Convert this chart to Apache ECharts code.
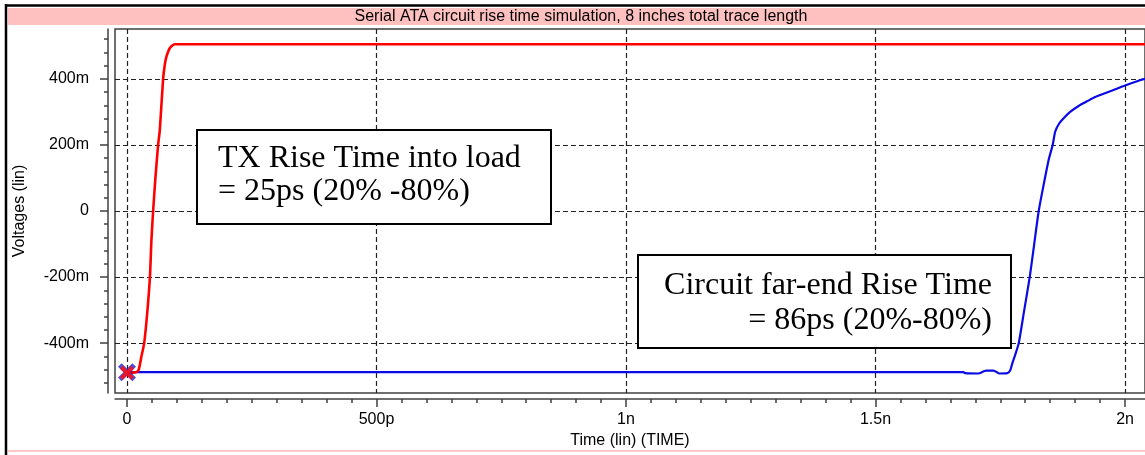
<!DOCTYPE html>
<html>
<head>
<meta charset="utf-8">
<script src="https://cdn.jsdelivr.net/npm/echarts@6/dist/echarts.min.js"></script>
<style>
  html, body { margin: 0; padding: 0; background: #ffffff; }
  #chart { width: 1145px; height: 455px; }
</style>
</head>
<body>
<div id="chart"></div>
<script>
// Transmitter output (red): time in ns, voltage in V
const txTime = [0, 0.010, 0.020, 0.024, 0.029, 0.0345, 0.0405, 0.046, 0.049, 0.0524, 0.057, 0.0624, 0.0658, 0.0724, 0.076, 0.0792, 0.0857, 0.0957, 2.04];
const txVolt = [-0.490, -0.490, -0.487, -0.478, -0.440, -0.400, -0.310, -0.200, -0.088, 0.000, 0.100, 0.200, 0.245, 0.400, 0.445, 0.468, 0.493, 0.505, 0.505];

// Far-end receiver (blue): time in ns, voltage in V
const farTime = [0, 1.676, 1.680, 1.706, 1.716, 1.722, 1.736, 1.742, 1.748, 1.764, 1.770, 1.774, 1.780, 1.787, 1.798, 1.809, 1.818, 1.827, 1.837, 1.847, 1.855, 1.860, 1.868, 1.877, 1.890, 1.907, 1.924, 1.940, 1.957, 1.973, 2.000, 2.030, 2.040];
const farVolt = [-0.488, -0.488, -0.491, -0.492, -0.486, -0.483, -0.483, -0.487, -0.492, -0.491, -0.482, -0.462, -0.435, -0.400, -0.300, -0.200, -0.100, 0.000, 0.080, 0.155, 0.200, 0.240, 0.265, 0.281, 0.300, 0.318, 0.332, 0.345, 0.355, 0.364, 0.380, 0.396, 0.400];

// Axis ticks and their labels
const xMajorTicks = [0, 0.5, 1, 1.5, 2];
const xTickLabels = ['0', '500p', '1n', '1.5n', '2n'];
const yMajorTicks = [-0.4, -0.2, 0, 0.2, 0.4];
const yTickLabels = ['-400m', '-200m', '0', '200m', '400m'];

const titleText = 'Serial ATA circuit rise time simulation, 8 inches total trace length';
const xAxisTitle = 'Time (lin) (TIME)';
const yAxisTitle = 'Voltages (lin)';
const noteTx = ['TX Rise Time into load', '= 25ps (20% -80%)'];
const noteFar = ['Circuit far-end Rise Time', '= 86ps (20%-80%)'];

// Minor tick positions: 50 ps steps on time, 40 mV steps on voltage
const xMinorTicks = [];
for (let i = 0; i <= 40; i++) xMinorTicks.push(+(i * 0.05).toFixed(3));
const yMinorTicks = [];
for (let i = -13; i <= 13; i++) yMinorTicks.push(+(i * 0.04).toFixed(3));

const X_MIN = -0.024, X_MAX = 2.04;
const Y_MIN = -0.551, Y_MAX = 0.551;

function pick(ticks, labels) {
  return function (v) {
    for (let i = 0; i < ticks.length; i++) {
      if (Math.abs(ticks[i] - v) < 1e-9) return labels[i];
    }
    return '';
  };
}

const UI_FONT = 'Liberation Sans';
const NOTE_FONT = 'Liberation Serif';
const axisColor = '#404040';
const gridDash = { type: [5, 3], color: '#222222', width: 1.2 };

const xSymbol = 'path://M0,2L2,0L5,3L8,0L10,2L7,5L10,8L8,10L5,7L2,10L0,8L3,5Z';

const chart = echarts.init(document.getElementById('chart'), null, { renderer: 'canvas' });

chart.setOption({
  animation: false,
  backgroundColor: '#ffffff',
  grid: {
    left: 115, top: 29, right: -5, bottom: 62,
    show: true, borderColor: axisColor, borderWidth: 1.5, backgroundColor: '#ffffff'
  },
  xAxis: [
    {
      type: 'value', min: X_MIN, max: X_MAX, position: 'bottom', offset: 6,
      name: xAxisTitle, nameLocation: 'middle', nameGap: 29,
      nameTextStyle: { fontFamily: UI_FONT, fontSize: 16, color: '#000' },
      axisLine: { show: true, onZero: false, lineStyle: { color: axisColor, width: 1.5 } },
      axisTick: { show: true, customValues: xMajorTicks, length: 8, lineStyle: { color: axisColor, width: 1.5 } },
      axisLabel: { customValues: xMajorTicks, formatter: pick(xMajorTicks, xTickLabels), margin: 13,
                   fontFamily: UI_FONT, fontSize: 16, color: '#000' },
      splitLine: { show: true, lineStyle: gridDash }
    },
    {
      type: 'value', min: X_MIN, max: X_MAX, position: 'bottom', offset: 6,
      axisLine: { show: false, onZero: false },
      axisTick: { show: true, customValues: xMinorTicks, length: 4, lineStyle: { color: axisColor, width: 1.5 } },
      axisLabel: { show: false },
      splitLine: { show: false }
    }
  ],
  yAxis: [
    {
      type: 'value', min: Y_MIN, max: Y_MAX, position: 'left', offset: 7,
      name: yAxisTitle, nameLocation: 'middle', nameGap: 80,
      nameTextStyle: { fontFamily: UI_FONT, fontSize: 16, color: '#000' },
      axisLine: { show: true, onZero: false, lineStyle: { color: axisColor, width: 1.5 } },
      axisTick: { show: true, customValues: yMajorTicks, length: 8, lineStyle: { color: axisColor, width: 1.5 } },
      axisLabel: { customValues: yMajorTicks, formatter: pick(yMajorTicks, yTickLabels), margin: 19,
                   fontFamily: UI_FONT, fontSize: 16, color: '#000' },
      splitLine: { show: true, lineStyle: gridDash }
    },
    {
      type: 'value', min: Y_MIN, max: Y_MAX, position: 'left', offset: 7,
      axisLine: { show: false, onZero: false },
      axisTick: { show: true, customValues: yMinorTicks, length: 4, lineStyle: { color: axisColor, width: 1.5 } },
      axisLabel: { show: false },
      splitLine: { show: false }
    }
  ],
  series: [
    {
      name: 'far-end', type: 'line', xAxisIndex: 0, yAxisIndex: 0,
      data: farTime.map((t, i) => [t, farVolt[i]]),
      showSymbol: false, smooth: 0.2,
      lineStyle: { color: '#0a0ae6', width: 2.2 },
      z: 2
    },
    {
      name: 'tx', type: 'line', xAxisIndex: 0, yAxisIndex: 0,
      data: txTime.map((t, i) => [t, txVolt[i]]),
      showSymbol: false, smooth: 0.2,
      lineStyle: { color: '#ff0000', width: 2.6 },
      z: 3
    },
    {
      name: 'far-end start', type: 'scatter', xAxisIndex: 0, yAxisIndex: 0,
      data: [[farTime[0], farVolt[0]]],
      symbol: xSymbol, symbolSize: 18,
      itemStyle: { color: '#2020d0' },
      z: 4
    },
    {
      name: 'tx start', type: 'scatter', xAxisIndex: 0, yAxisIndex: 0,
      data: [[txTime[0], txVolt[0]]],
      symbol: xSymbol, symbolSize: 14,
      itemStyle: { color: '#ff1010', opacity: 0.85 },
      z: 5
    }
  ],
  graphic: [
    // window frame and title strip
    { type: 'line', shape: { x1: 6, y1: 4, x2: 6, y2: 455 }, style: { stroke: '#000', lineWidth: 2.5 }, z: 10 },
    { type: 'line', shape: { x1: 5, y1: 5.5, x2: 1145, y2: 5.5 }, style: { stroke: '#000', lineWidth: 2.5 }, z: 10 },
    { type: 'rect', shape: { x: 8, y: 8, width: 1137, height: 17 }, style: { fill: '#ffc0c0' }, z: 10 },
    { type: 'text', x: 581, y: 17, style: { text: titleText, fill: '#000', font: '16px "' + UI_FONT + '"', align: 'center', verticalAlign: 'middle' }, z: 11 },
    { type: 'line', shape: { x1: 8, y1: 451, x2: 1145, y2: 451 }, style: { stroke: '#ffc8c8', lineWidth: 2 }, z: 10 },
    // annotation boxes
    { type: 'rect', shape: { x: 197, y: 130, width: 354, height: 94 }, style: { fill: '#fff', stroke: '#000', lineWidth: 2 }, z: 20 },
    { type: 'text', x: 218, y: 159, style: { text: noteTx[0], fill: '#000', font: '32px "' + NOTE_FONT + '"', align: 'left', verticalAlign: 'middle' }, z: 21 },
    { type: 'text', x: 218, y: 192, style: { text: noteTx[1], fill: '#000', font: '32px "' + NOTE_FONT + '"', align: 'left', verticalAlign: 'middle' }, z: 21 },
    { type: 'rect', shape: { x: 638, y: 255, width: 373, height: 93 }, style: { fill: '#fff', stroke: '#000', lineWidth: 2 }, z: 20 },
    { type: 'text', x: 992, y: 286, style: { text: noteFar[0], fill: '#000', font: '32px "' + NOTE_FONT + '"', align: 'right', verticalAlign: 'middle' }, z: 21 },
    { type: 'text', x: 992, y: 321, style: { text: noteFar[1], fill: '#000', font: '32px "' + NOTE_FONT + '"', align: 'right', verticalAlign: 'middle' }, z: 21 }
  ]
});
</script>
</body>
</html>
